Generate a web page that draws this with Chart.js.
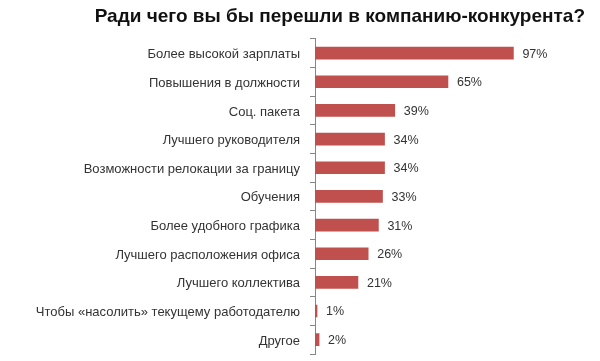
<!DOCTYPE html>
<html lang="ru">
<head>
  <meta charset="UTF-8">
  <title>Ради чего вы бы перешли в компанию-конкурента?</title>
  <style>
    html, body { margin: 0; padding: 0; background: #fff; }
  </style>
</head>
<body>
  <canvas id="mychart" width="600" height="361"></canvas>
  <script src="https://cdn.jsdelivr.net/npm/chart.js"></script>
  <script>
    // данные с картинки
    const reasons = [
      'Более высокой зарплаты',
      'Повышения в должности',
      'Соц. пакета',
      'Лучшего руководителя',
      'Возможности релокации за границу',
      'Обучения',
      'Более удобного графика',
      'Лучшего расположения офиса',
      'Лучшего коллектива',
      'Чтобы «насолить» текущему работодателю',
      'Другое'
    ]
    const percents = [97, 65, 39, 34, 34, 33, 31, 26, 21, 1, 2]

    const textFont = '"Liberation Sans", Arial, sans-serif'

    // подписи значений у конца столбиков
    const valueLabels = {
      id: 'valueLabels',
      afterDatasetsDraw(chart) {
        const ctx = chart.ctx
        const meta = chart.getDatasetMeta(0)
        ctx.save()
        ctx.font = '12.5px ' + textFont
        ctx.fillStyle = '#333'
        ctx.textBaseline = 'middle'
        ctx.textAlign = 'left'
        meta.data.forEach((bar, i) => {
          ctx.fillText(percents[i] + '%', bar.x + 9, bar.y + 1)
        })
        ctx.restore()
      }
    }

    new Chart(document.getElementById('mychart'), {
      type: 'bar',
      data: {
        labels: reasons,
        datasets: [{
          label: '%',
          data: percents,
          backgroundColor: '#C0504D',
          barThickness: 12
        }]
      },
      options: {
        indexAxis: 'y',
        responsive: false,
        animation: false,
        layout: { padding: { left: 10, right: 15, bottom: 7 } },
        plugins: {
          legend: { display: false },
          tooltip: { enabled: false },
          title: {
            display: true,
            text: 'Ради чего вы бы перешли в компанию-конкурента?',
            align: 'end',
            color: '#111',
            font: { family: textFont, size: 19, weight: 'bold' },
            padding: { top: 5, bottom: 11 }
          }
        },
        scales: {
          x: { display: false, min: 0, max: 132 },
          y: {
            afterFit(scale) {
              scale.width = 305
              scale.paddingTop = 0
              scale.paddingBottom = 0
            },
            border: { color: '#868686' },
            grid: { drawOnChartArea: false, tickLength: 5, color: '#868686' },
            ticks: { color: '#333', padding: 10, labelOffset: 1.5, font: { family: textFont, size: 13 } }
          }
        }
      },
      plugins: [valueLabels]
    })
  </script>
</body>
</html>
